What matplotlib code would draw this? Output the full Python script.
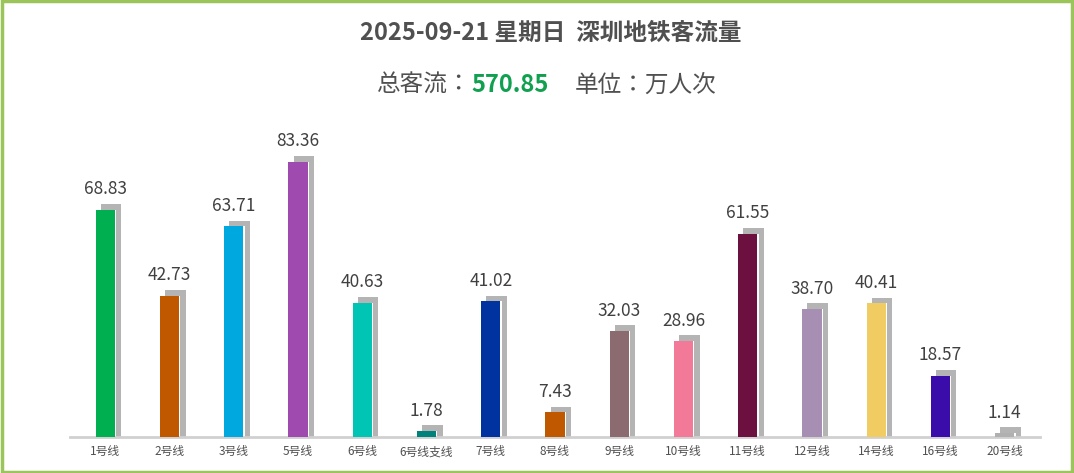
import matplotlib
matplotlib.use('Agg')
import matplotlib.pyplot as plt
from matplotlib.patches import Rectangle

plt.rcParams['font.family'] = 'sans-serif'
plt.rcParams['font.sans-serif'] = ['Noto Sans CJK SC', 'Noto Sans CJK JP', 'Noto Sans CJK TC',
                                   'Noto Sans CJK KR', 'DejaVu Sans']

lines = ["1号线", "2号线", "3号线", "5号线", "6号线", "6号线支线", "7号线", "8号线",
         "9号线", "10号线", "11号线", "12号线", "14号线", "16号线", "20号线"]
values = [68.83, 42.73, 63.71, 83.36, 40.63, 1.78, 41.02, 7.43,
          32.03, 28.96, 61.55, 38.70, 40.41, 18.57, 1.14]
colors = ["#00b050", "#c05800", "#00a8e0", "#9e4aae", "#00c4b4", "#00827c", "#0033a0", "#c05800",
          "#8b6b70", "#f27a98", "#6c1040", "#a68fb2", "#f0cc62", "#3a0caa", "#b0b0b0"]
total = "570.85"

fig = plt.figure(figsize=(10.74, 4.73), dpi=100)
fig.patches.append(Rectangle((0.002, 0.003), 0.996, 0.994, transform=fig.transFigure,
                             fill=False, edgecolor="#9bc45a", linewidth=2.5))

ax = fig.add_axes([70 / 1074, 36 / 473, 970 / 1074, 304 / 473])
x = range(len(lines))
# gray shadow bars, offset up/right
ax.bar([i + 0.09 for i in x], [v + 1.8 for v in values], width=0.32, color="#b4b4b4", zorder=1)
ax.bar(x, values, width=0.34, color="white", zorder=2)
ax.bar(x, values, width=0.30, color=colors, zorder=3)
for i, v in zip(x, values):
    ax.text(i, v + 3.5, f"{v:.2f}", ha="center", va="bottom", fontsize=12.5, color="#404040")

ax.set_xlim(-0.55, len(lines) - 0.45)
ax.set_ylim(0, 92)
ax.set_xticks(list(x))
ax.set_xticklabels(lines, fontsize=8.5, color="#505050")
ax.tick_params(axis='x', length=0, pad=6)
ax.set_yticks([])
for s in ["top", "left", "right"]:
    ax.spines[s].set_visible(False)
ax.spines["bottom"].set_color("#d0d0d0")
ax.spines["bottom"].set_linewidth(2)

fig.text(0.513, 0.93, "2025-09-21 星期日  深圳地铁客流量", ha="center", va="center",
         fontsize=17, fontweight="bold", color="#505050")
fig.text(0.439, 0.82, "总客流：", ha="right", va="center", fontsize=17, color="#505050")
fig.text(0.439, 0.82, total, ha="left", va="center", fontsize=17, fontweight="bold", color="#10a050")
fig.text(0.535, 0.82, "单位：万人次", ha="left", va="center", fontsize=17, color="#505050")

fig.savefig("out.png", dpi=100)
